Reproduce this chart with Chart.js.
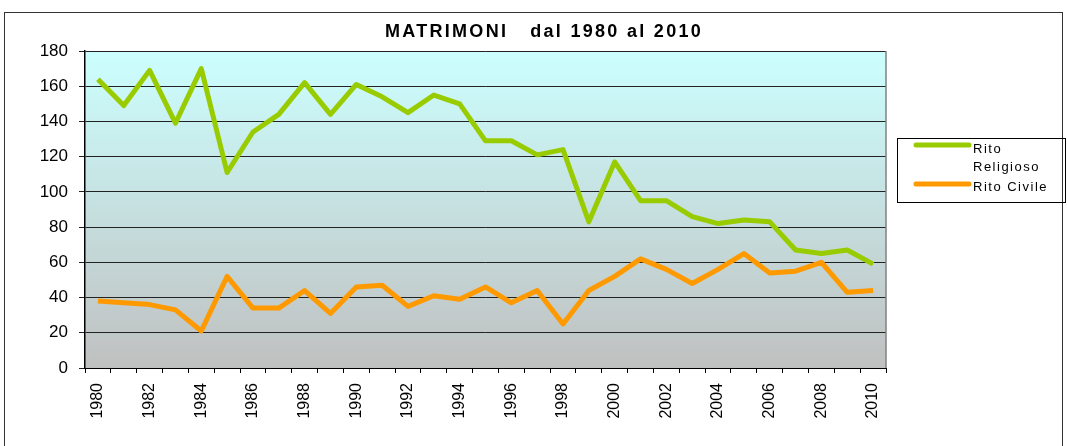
<!DOCTYPE html>
<html>
<head>
<meta charset="utf-8">
<script src="https://cdn.jsdelivr.net/npm/chart.js@4"></script>
<style>
  html, body { margin: 0; padding: 0; background: #fff; }
  #wrap { width: 1067px; height: 446px; position: relative; }
</style>
</head>
<body>
<div id="wrap"><canvas id="chart" width="1067" height="446"></canvas></div>
<script>
const years = [];
for (let y = 1980; y <= 2010; y++) years.push(String(y));

const ritoReligioso = [164, 149, 169, 139, 170, 111, 134, 144, 162, 144,
  161, 154, 145, 155, 150, 129, 129, 121, 124, 83,
  117, 95, 95, 86, 82, 84, 83, 67, 65, 67, 59];
const ritoCivile = [38, 37, 36, 33, 21, 52, 34, 34, 44, 31,
  46, 47, 35, 41, 39, 46, 37, 44, 25, 44,
  52, 62, 56, 48, 56, 65, 54, 55, 60, 43, 44];
const yTicks = [0, 20, 40, 60, 80, 100, 120, 140, 160, 180];

const titleText = "MATRIMONI   dal 1980 al 2010";
const legendLabels = [["Rito", "Religioso"], ["Rito Civile"]];

const GREEN = "#99CC00";
const ORANGE = "#FF9900";
const FONT = "'Liberation Sans', Arial, sans-serif";

// frame, plot background, title and legend
const decor = {
  id: "decor",
  beforeDraw(chart) {
    const ctx = chart.ctx;
    const a = chart.chartArea;
    ctx.save();
    ctx.fillStyle = "#fff";
    ctx.fillRect(0, 0, chart.width, chart.height);
    ctx.strokeStyle = "#333";
    ctx.lineWidth = 1;
    ctx.strokeRect(4.5, 12.5, 1058, 450);
    const g = ctx.createLinearGradient(0, a.top, 0, a.bottom);
    g.addColorStop(0, "#CCFFFF");
    g.addColorStop(1, "#C0C0C0");
    ctx.fillStyle = g;
    ctx.fillRect(a.left, a.top, a.right - a.left, a.bottom - a.top);
    ctx.restore();
  },
  afterDraw(chart) {
    const ctx = chart.ctx;
    const a = chart.chartArea;
    ctx.save();
    // plot border right
    ctx.strokeStyle = "#808080";
    ctx.lineWidth = 1.5;
    ctx.beginPath();
    ctx.moveTo(a.right, a.top);
    ctx.lineTo(a.right, a.bottom);
    ctx.stroke();

    // title
    ctx.fillStyle = "#000";
    ctx.font = "bold 18px " + FONT;
    ctx.letterSpacing = "2.3px";
    ctx.textAlign = "center";
    ctx.textBaseline = "middle";
    ctx.fillText(titleText, 544, 32);

    // legend
    ctx.strokeStyle = "#000";
    ctx.lineWidth = 1;
    ctx.strokeRect(897.5, 138.5, 168, 64);
    ctx.font = "13px " + FONT;
    ctx.letterSpacing = "1.5px";
    ctx.textAlign = "left";
    const rows = [[145, [149, 167]], [184, [187]]];
    chart.data.datasets.forEach((ds, i) => {
      ctx.strokeStyle = ds.borderColor;
      ctx.lineWidth = 5;
      ctx.lineCap = "round";
      ctx.beginPath();
      ctx.moveTo(916, rows[i][0]);
      ctx.lineTo(969, rows[i][0]);
      ctx.stroke();
      legendLabels[i].forEach((t, j) => {
        ctx.fillText(t, 973, rows[i][1][j]);
      });
    });
    ctx.restore();
  }
};

new Chart(document.getElementById("chart"), {
  type: "line",
  data: {
    labels: years,
    datasets: [
      {
        label: "Rito Religioso",
        data: ritoReligioso,
        borderColor: GREEN,
        backgroundColor: GREEN,
        borderWidth: 5,
        pointRadius: 0,
        tension: 0,
        borderJoinStyle: "round"
      },
      {
        label: "Rito Civile",
        data: ritoCivile,
        borderColor: ORANGE,
        backgroundColor: ORANGE,
        borderWidth: 5,
        pointRadius: 0,
        tension: 0,
        borderJoinStyle: "round"
      }
    ]
  },
  options: {
    responsive: false,
    animation: false,
    layout: { padding: { left: 15, top: 51, right: 181, bottom: 0 } },
    plugins: {
      legend: { display: false },
      title: { display: false },
      tooltip: { enabled: false }
    },
    scales: {
      x: {
        offset: true,
        grid: {
          offset: true,
          drawOnChartArea: false,
          tickLength: 5,
          color: "#000"
        },
        border: { color: "#000", width: 1 },
        ticks: {
          autoSkip: false,
          maxRotation: 90,
          minRotation: 90,
          padding: 10,
          color: "#000",
          font: { size: 16, family: FONT },
          callback: (v, i) => (i % 2 === 0 ? years[i] : "")
        },
        afterFit: s => { s.height = 78; }
      },
      y: {
        min: 0,
        max: 180,
        afterBuildTicks: s => { s.ticks = yTicks.map(v => ({ value: v })); },
        grid: {
          color: "#222",
          lineWidth: 1,
          tickLength: 6
        },
        border: { color: "#000", width: 1.5 },
        ticks: {
          padding: 11,
          color: "#000",
          font: { size: 17, family: FONT }
        },
        afterFit: s => { s.width = 70; }
      }
    }
  },
  plugins: [decor]
});
</script>
</body>
</html>
